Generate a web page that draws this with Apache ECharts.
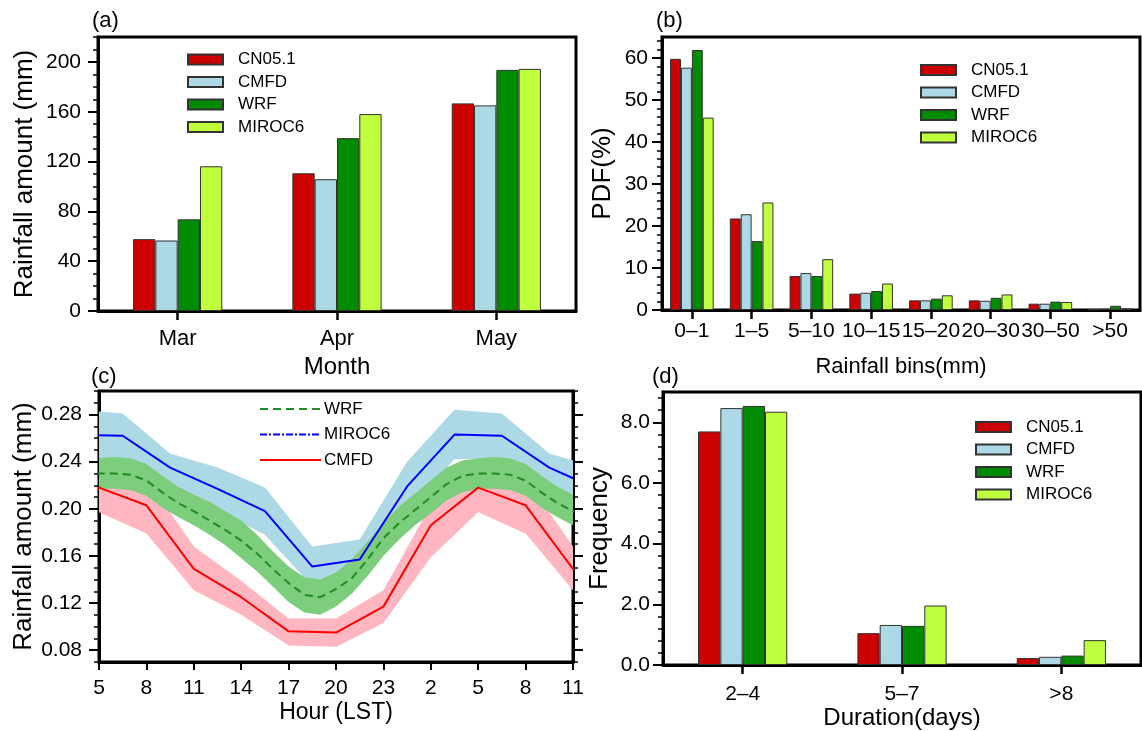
<!DOCTYPE html>
<html>
<head>
<meta charset="utf-8">
<script src="https://cdn.jsdelivr.net/npm/echarts@6/dist/echarts.min.js"></script>
<style>
html, body { margin: 0; padding: 0; background: #fff; }
#main { width: 1142px; height: 731px; }
</style>
</head>
<body>
<div id="main"></div>
<script>
// ---------- data ----------
const names = ['CN05.1', 'CMFD', 'WRF', 'MIROC6'];
const colors = ['#cd0000', '#add8e6', '#008b00', '#c0ff3e'];

// (a) monthly rainfall
const months = ['Mar', 'Apr', 'May'];
const monCN05 = [57.7, 110.6, 166.7];
const monCMFD = [56.6, 105.8, 165.1];
const monWRF = [73.6, 138.8, 193.6];
const monMIROC6 = [116.2, 158.1, 194.4];

// (b) PDF of rainfall bins
const bins = ['0–1', '1–5', '5–10', '10–15', '15–20', '20–30', '30–50', '>50'];
const pdfCN05 = [59.8, 21.8, 8.1, 3.9, 2.3, 2.3, 1.5, 0.1];
const pdfCMFD = [57.7, 22.8, 8.8, 4.1, 2.3, 2.2, 1.5, 0.3];
const pdfWRF = [61.9, 16.4, 8.1, 4.5, 2.7, 2.9, 2.0, 1.0];
const pdfMIROC6 = [45.8, 25.6, 12.1, 6.3, 3.5, 3.7, 1.9, 0.4];

// (c) diurnal cycle (LST hour of day)
const wrfHours = [0, 1, 2, 3, 4, 5, 6, 7, 8, 9, 10, 11, 12, 13, 14, 15, 16, 17, 18, 19, 20, 21, 22, 23];
const wrfMean = [0.188, 0.199, 0.210, 0.221, 0.228, 0.230, 0.230, 0.229, 0.224, 0.214, 0.205, 0.198,
                 0.190, 0.182, 0.173, 0.162, 0.149, 0.137, 0.127, 0.125, 0.132, 0.141, 0.157, 0.175];
const wrfUpper = [0.202, 0.213, 0.224, 0.235, 0.241, 0.243, 0.244, 0.243, 0.238, 0.228, 0.219, 0.212,
                  0.206, 0.198, 0.190, 0.178, 0.164, 0.151, 0.142, 0.140, 0.146, 0.157, 0.172, 0.188];
const wrfLower = [0.174, 0.186, 0.196, 0.207, 0.214, 0.217, 0.217, 0.216, 0.211, 0.201, 0.193, 0.186,
                  0.178, 0.169, 0.158, 0.147, 0.134, 0.121, 0.112, 0.110, 0.117, 0.128, 0.143, 0.160];

const mirocHours = [0.5, 3.5, 6.5, 9.5, 12.5, 15.5, 18.5, 21.5];
const mirocMean = [0.219, 0.263, 0.262, 0.235, 0.217, 0.198, 0.151, 0.157];
const mirocUpper = [0.240, 0.284, 0.281, 0.247, 0.235, 0.218, 0.168, 0.174];
const mirocLower = [0.198, 0.242, 0.243, 0.223, 0.199, 0.178, 0.134, 0.140];

const cmfdHours = [2, 5, 8, 11, 14, 17, 20, 23];
const cmfdMean = [0.186, 0.218, 0.203, 0.149, 0.125, 0.096, 0.095, 0.117];
const cmfdUpper = [0.203, 0.240, 0.226, 0.168, 0.139, 0.107, 0.107, 0.131];
const cmfdLower = [0.159, 0.197, 0.179, 0.131, 0.110, 0.084, 0.083, 0.103];

const hourTicks = [5, 8, 11, 14, 17, 20, 23, 26, 29, 32, 35];

// (d) duration frequency
const durations = ['2–4', '5–7', '>8'];
const durCN05 = [7.70, 1.05, 0.23];
const durCMFD = [8.47, 1.32, 0.27];
const durWRF = [8.54, 1.29, 0.31];
const durMIROC6 = [8.35, 1.96, 0.82];

// axis ticks
const yTickA = [0, 40, 80, 120, 160, 200];
const yTickB = [0, 10, 20, 30, 40, 50, 60];
const yTickC = [0.08, 0.12, 0.16, 0.20, 0.24, 0.28];
const yTickD = [0, 2, 4, 6, 8];

// ---------- helpers ----------
const FONT = 'Liberation Sans';
function steps(from, to, step) {
  const out = [];
  for (let v = from; v <= to + step / 1000; v += step) out.push(+v.toFixed(4));
  return out;
}
// repeat one daily cycle so the two-day window 5..35 h is covered (clipped by the grid)
function repeatDay(hours, vals) {
  const pts = [];
  [-24, 0, 24].forEach(d => {
    hours.forEach((h, i) => {
      const x = h + d;
      if (x >= 2 && x <= 38) pts.push([x, vals[i]]);
    });
  });
  return pts;
}

const txt = (size) => ({ fontFamily: FONT, fontSize: size, color: '#000' });
const blackLine = (w) => ({ show: true, lineStyle: { color: '#000', width: w } });

function catAxis(grid, data, labelMargin, labelSize, name, nameGap, nameSize) {
  return {
    type: 'category', gridIndex: grid, data: data,
    axisLine: blackLine(3),
    axisTick: { show: true, alignWithLabel: true, length: 9, lineStyle: { color: '#000', width: 2.5 } },
    axisLabel: Object.assign(txt(labelSize), { margin: labelMargin, interval: 0 }),
    name: name, nameLocation: 'middle', nameGap: nameGap, nameTextStyle: txt(nameSize)
  };
}
function valAxisMajor(grid, min, max, ticks, fmt, margin, name, nameGap, pos) {
  return {
    type: 'value', gridIndex: grid, min: min, max: max, position: pos || 'left',
    axisLine: blackLine(3),
    axisTick: { show: true, customValues: ticks, length: 10, lineStyle: { color: '#000', width: 2 } },
    axisLabel: name === null ? { show: false } :
      Object.assign(txt(21), { customValues: ticks, margin: margin, formatter: fmt }),
    splitLine: { show: false },
    name: name || '', nameLocation: 'middle', nameRotate: 90, nameGap: nameGap || 0,
    nameTextStyle: txt(26)
  };
}
function valAxisMinor(grid, min, max, ticks, pos) {
  return {
    type: 'value', gridIndex: grid, min: min, max: max, position: pos || 'left',
    axisLine: { show: false },
    axisTick: { show: true, customValues: ticks, length: 5, lineStyle: { color: '#000', width: 1.5 } },
    axisLabel: { show: false },
    splitLine: { show: false }
  };
}
function barLegend(left, top) {
  return {
    orient: 'vertical', left: left, top: top, padding: 0, itemGap: 5.5,
    itemWidth: 35, itemHeight: 10, icon: 'rect', data: names, selectedMode: false,
    textStyle: Object.assign(txt(17), { lineHeight: 17, padding: [0, 0, 0, 10] })
  };
}
function barSeries(x, y, sets, gap) {
  return sets.map((vals, i) => ({
    type: 'bar', name: names[i], xAxisIndex: x, yAxisIndex: y, data: vals,
    barGap: '0%', barCategoryGap: gap,
    itemStyle: { color: colors[i], borderColor: '#333', borderWidth: 1 }
  }));
}
// spread band drawn as one polygon (upper edge, then lower edge backwards), clipped to the grid
function bandSeries(hours, lower, upper, color) {
  const up = repeatDay(hours, upper);
  const lo = repeatDay(hours, lower);
  return {
    type: 'custom', xAxisIndex: 2, yAxisIndex: 4, silent: true,
    data: up, encode: { x: 0, y: 1 },
    renderItem: (params, api) => {
      if (params.dataIndex !== 0) return null;
      const pts = up.map(p => api.coord(p)).concat(lo.slice().reverse().map(p => api.coord(p)));
      const cs = params.coordSys;
      return {
        type: 'polygon', shape: { points: pts }, style: { fill: color },
        clipPath: { type: 'rect', shape: { x: cs.x, y: cs.y, width: cs.width, height: cs.height } }
      };
    }
  };
}
function lineSeries(name, hours, vals, color, type) {
  return {
    type: 'line', name: name, xAxisIndex: 2, yAxisIndex: 4, data: repeatDay(hours, vals),
    symbol: 'none', lineStyle: { color: color, width: 2, type: type || 'solid' }, itemStyle: { color: color }
  };
}

// ---------- chart ----------
const chart = echarts.init(document.getElementById('main'));
const frame = { show: true, borderColor: '#000', borderWidth: 3, backgroundColor: 'transparent' };

chart.setOption({
  animation: false,
  backgroundColor: '#fff',
  title: [
    { text: '(a)', left: 92, top: 10 },
    { text: '(b)', left: 656, top: 10 },
    { text: '(c)', left: 91, top: 366 },
    { text: '(d)', left: 652, top: 366 }
  ].map(t => Object.assign(t, { padding: 0, textStyle: Object.assign(txt(22), { fontWeight: 'normal' }) })),
  grid: [
    Object.assign({ left: 98, top: 37, width: 478, height: 274 }, frame),
    Object.assign({ left: 662, top: 37, width: 478, height: 273 }, frame),
    Object.assign({ left: 99, top: 391, width: 474, height: 271 }, frame),
    Object.assign({ left: 663, top: 392, width: 478, height: 273 }, frame)
  ],
  legend: [
    barLegend(187, 51),
    barLegend(920, 61.5),
    barLegend(975, 418.5),
    {
      orient: 'vertical', left: 259, top: 400.5, padding: 0, itemGap: 8.5,
      itemWidth: 61, itemHeight: 14, selectedMode: false,
      itemStyle: { opacity: 0 },
      data: [
        { name: 'c_WRF' },
        { name: 'c_MIROC6', lineStyle: { type: [7, 2, 2, 2] } },
        { name: 'c_CMFD' }
      ],
      formatter: n => n.replace('c_', ''),
      textStyle: Object.assign(txt(17), { lineHeight: 17, padding: [0, 0, 0, -2] })
    }
  ],
  xAxis: [
    catAxis(0, months, 17, 22, 'Month', 44, 24),
    catAxis(1, bins, 11, 21, 'Rainfall bins(mm)', 46, 22),
    {
      type: 'value', gridIndex: 2, min: 5, max: 35,
      axisLine: blackLine(3),
      axisTick: { show: true, customValues: hourTicks, length: 8, lineStyle: { color: '#000', width: 2 } },
      axisLabel: Object.assign(txt(21), { customValues: hourTicks, margin: 16, formatter: v => String(v % 24) }),
      splitLine: { show: false },
      name: 'Hour (LST)', nameLocation: 'middle', nameGap: 39, nameTextStyle: txt(23)
    },
    catAxis(3, durations, 19, 21, 'Duration(days)', 39, 24)
  ],
  yAxis: [
    valAxisMajor(0, 0, 220, yTickA, v => String(v), 17, 'Rainfall amount (mm)', 60),
    valAxisMinor(0, 0, 220, steps(0, 220, 10)),
    valAxisMajor(1, 0, 65, yTickB, v => String(v), 14, 'PDF(%)', 46),
    valAxisMinor(1, 0, 65, steps(0, 64, 2)),
    valAxisMajor(2, 0.07, 0.30, yTickC, v => v.toFixed(2), 17, 'Rainfall amount (mm)', 60),
    valAxisMinor(2, 0.07, 0.30, steps(0.07, 0.30, 0.01)),
    valAxisMajor(2, 0.07, 0.30, yTickC, null, 0, null, 0, 'right'),
    valAxisMinor(2, 0.07, 0.30, steps(0.07, 0.30, 0.01), 'right'),
    valAxisMajor(3, 0, 9, yTickD, v => v.toFixed(1), 13, 'Frequency', 50),
    valAxisMinor(3, 0, 9, steps(0, 8.8, 0.4))
  ],
  series: [].concat(
    barSeries(0, 0, [monCN05, monCMFD, monWRF, monMIROC6], '44%'),
    barSeries(1, 2, [pdfCN05, pdfCMFD, pdfWRF, pdfMIROC6], '27%'),
    barSeries(3, 8, [durCN05, durCMFD, durWRF, durMIROC6], '44%'),
    [
      bandSeries(mirocHours, mirocLower, mirocUpper, '#add8e6'),
      bandSeries(cmfdHours, cmfdLower, cmfdUpper, '#ffb6c1'),
      bandSeries(wrfHours, wrfLower, wrfUpper, '#7ccd7c'),
      lineSeries('c_WRF', wrfHours, wrfMean, '#228b22', [8, 5]),
      lineSeries('c_MIROC6', mirocHours, mirocMean, '#0000ff'),
      lineSeries('c_CMFD', cmfdHours, cmfdMean, '#ff0000')
    ]
  )
});
</script>
</body>
</html>
